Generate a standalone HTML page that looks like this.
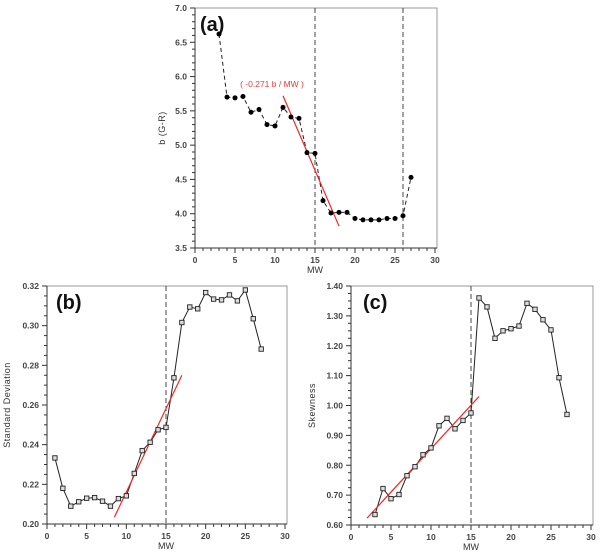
<!DOCTYPE html>
<html><head><meta charset="utf-8"><style>
body{margin:0;background:#fff;width:600px;height:560px;overflow:hidden}
svg{position:absolute;left:0;top:0}
text{font-family:"Liberation Sans",sans-serif}
</style></head><body>
<svg id="s" width="600" height="560" xmlns="http://www.w3.org/2000/svg"></svg>
<script>
const s=document.getElementById('s');let h='';
function panel(o){
 const X=v=>o.x0+(v-0)/30*(o.x1-o.x0), Y=v=>o.y0+(o.ymax-v)/(o.ymax-o.ymin)*(o.y1-o.y0);
 h+=`<rect x="${o.x0}" y="${o.y0}" width="${o.x1-o.x0+2}" height="${o.y1-o.y0}" fill="none" stroke="#999" stroke-width="1"/>`;
 h+=`<line x1="${o.x0}" y1="${o.y0}" x2="${o.x0}" y2="${o.y1}" stroke="#333"/><line x1="${o.x0}" y1="${o.y1}" x2="${o.x1+2}" y2="${o.y1}" stroke="#333"/>`;
 for(let i=0;i<=30;i++){const x=X(i);h+=`<line x1="${x}" y1="${o.y1}" x2="${x}" y2="${o.y1+(i%5?3:5)}" stroke="#333"/>`;
  if(i%5==0)h+=`<text x="${x}" y="${o.y1+15}" font-size="8.5" font-weight="bold" fill="#444" text-anchor="middle">${i}</text>`;}
 const n=Math.round((o.ymax-o.ymin)/o.minor);
 for(let i=0;i<=n;i++){const v=o.ymin+i*o.minor,y=Y(v),maj=i%o.per==0;
  h+=`<line x1="${o.x0-(maj?5:3)}" y1="${y}" x2="${o.x0}" y2="${y}" stroke="#333"/>`;
  if(maj)h+=`<text x="${o.x0-8}" y="${y+3}" font-size="8.5" font-weight="bold" fill="#444" text-anchor="end">${v.toFixed(o.dec)}</text>`;}
 h+=`<text x="${(o.x0+o.x1)/2}" y="${o.y1+25}" font-size="9" fill="#333" text-anchor="middle">MW</text>`;
 h+=`<text transform="translate(${o.ylx},${(o.y0+o.y1)/2}) rotate(-90)" font-size="9" fill="#333" text-anchor="middle" letter-spacing="0.5">${o.yl}</text>`;
 o.vl.forEach(v=>h+=`<line x1="${X(v)}" y1="${o.y0}" x2="${X(v)}" y2="${o.y1}" stroke="#444" stroke-dasharray="5,3"/>`);
 h+=`<text x="${o.x0+o.lx}" y="${o.y0+23}" font-size="20" font-weight="bold" fill="#111">${o.lab}</text>`;
 const pts=o.d.map(p=>`${X(p[0])},${Y(p[1])}`).join(' ');
 h+=`<polyline points="${pts}" fill="none" stroke="#222" stroke-width="1" ${o.dash?'stroke-dasharray="4,3"':''}/>`;
 h+=`<line x1="${X(o.r[0])}" y1="${Y(o.r[1])}" x2="${X(o.r[2])}" y2="${Y(o.r[3])}" stroke="#f22" stroke-width="1.2"/>`;
 o.d.forEach(p=>{const x=X(p[0]),y=Y(p[1]);
  if(o.dot)h+=`<circle cx="${x}" cy="${y}" r="2.5" fill="#000"/>`;
  else h+=`<rect x="${x-2.2}" y="${y-2.2}" width="4.4" height="4.4" fill="#ddd" stroke="#222" stroke-width="0.9"/>`;});
}
const a=[[3,6.62],[4,5.70],[5,5.69],[6,5.71],[7,5.48],[8,5.52],[9,5.30],[10,5.28],[11,5.55],[12,5.41],[13,5.39],[14,4.89],[15,4.88],[16,4.19],[17,4.01],[18,4.02],[19,4.02],[20,3.93],[21,3.91],[22,3.91],[23,3.91],[24,3.93],[25,3.93],[26,3.97],[27,4.53]];
panel({x0:195,x1:435,y0:8,y1:248,ymin:3.5,ymax:7,minor:0.1,per:5,dec:1,d:a,dot:1,dash:1,r:[11,5.72,18,3.82],vl:[15,26],lab:'(a)',lx:5,yl:'b (G-R)',ylx:165});
h+=`<text x="272" y="87" font-size="8.5" fill="#f33" text-anchor="middle">( -0.271 b / MW )</text>`;
const b=[[1,.2333],[2,.218],[3,.209],[4,.2112],[5,.213],[6,.2133],[7,.2115],[8,.209],[9,.2128],[10,.2142],[11,.2255],[12,.237],[13,.2412],[14,.2475],[15,.2487],[16,.2737],[17,.3016],[18,.3094],[19,.3085],[20,.3167],[21,.3134],[22,.313],[23,.3155],[24,.3125],[25,.318],[26,.3035],[27,.2882]];
panel({x0:47,x1:285,y0:286,y1:524,ymin:0.2,ymax:0.32,minor:0.005,per:4,dec:2,d:b,r:[8.5,.2035,17,.275],vl:[15],lab:'(b)',lx:9,yl:'Standard Deviation',ylx:10});
const c=[[3,.635],[4,.722],[5,.688],[6,.702],[7,.765],[8,.795],[9,.835],[10,.858],[11,.932],[12,.957],[13,.922],[14,.95],[15,.975],[16,1.36],[17,1.33],[18,1.225],[19,1.25],[20,1.257],[21,1.266],[22,1.342],[23,1.322],[24,1.287],[25,1.253],[26,1.093],[27,.97]];
panel({x0:351,x1:591,y0:286,y1:525,ymin:0.6,ymax:1.4,minor:0.025,per:4,dec:2,d:c,r:[2,.623,16,1.03],vl:[15],lab:'(c)',lx:12,yl:'Skewness',ylx:315});
s.innerHTML=h;
</script>
</body></html>
